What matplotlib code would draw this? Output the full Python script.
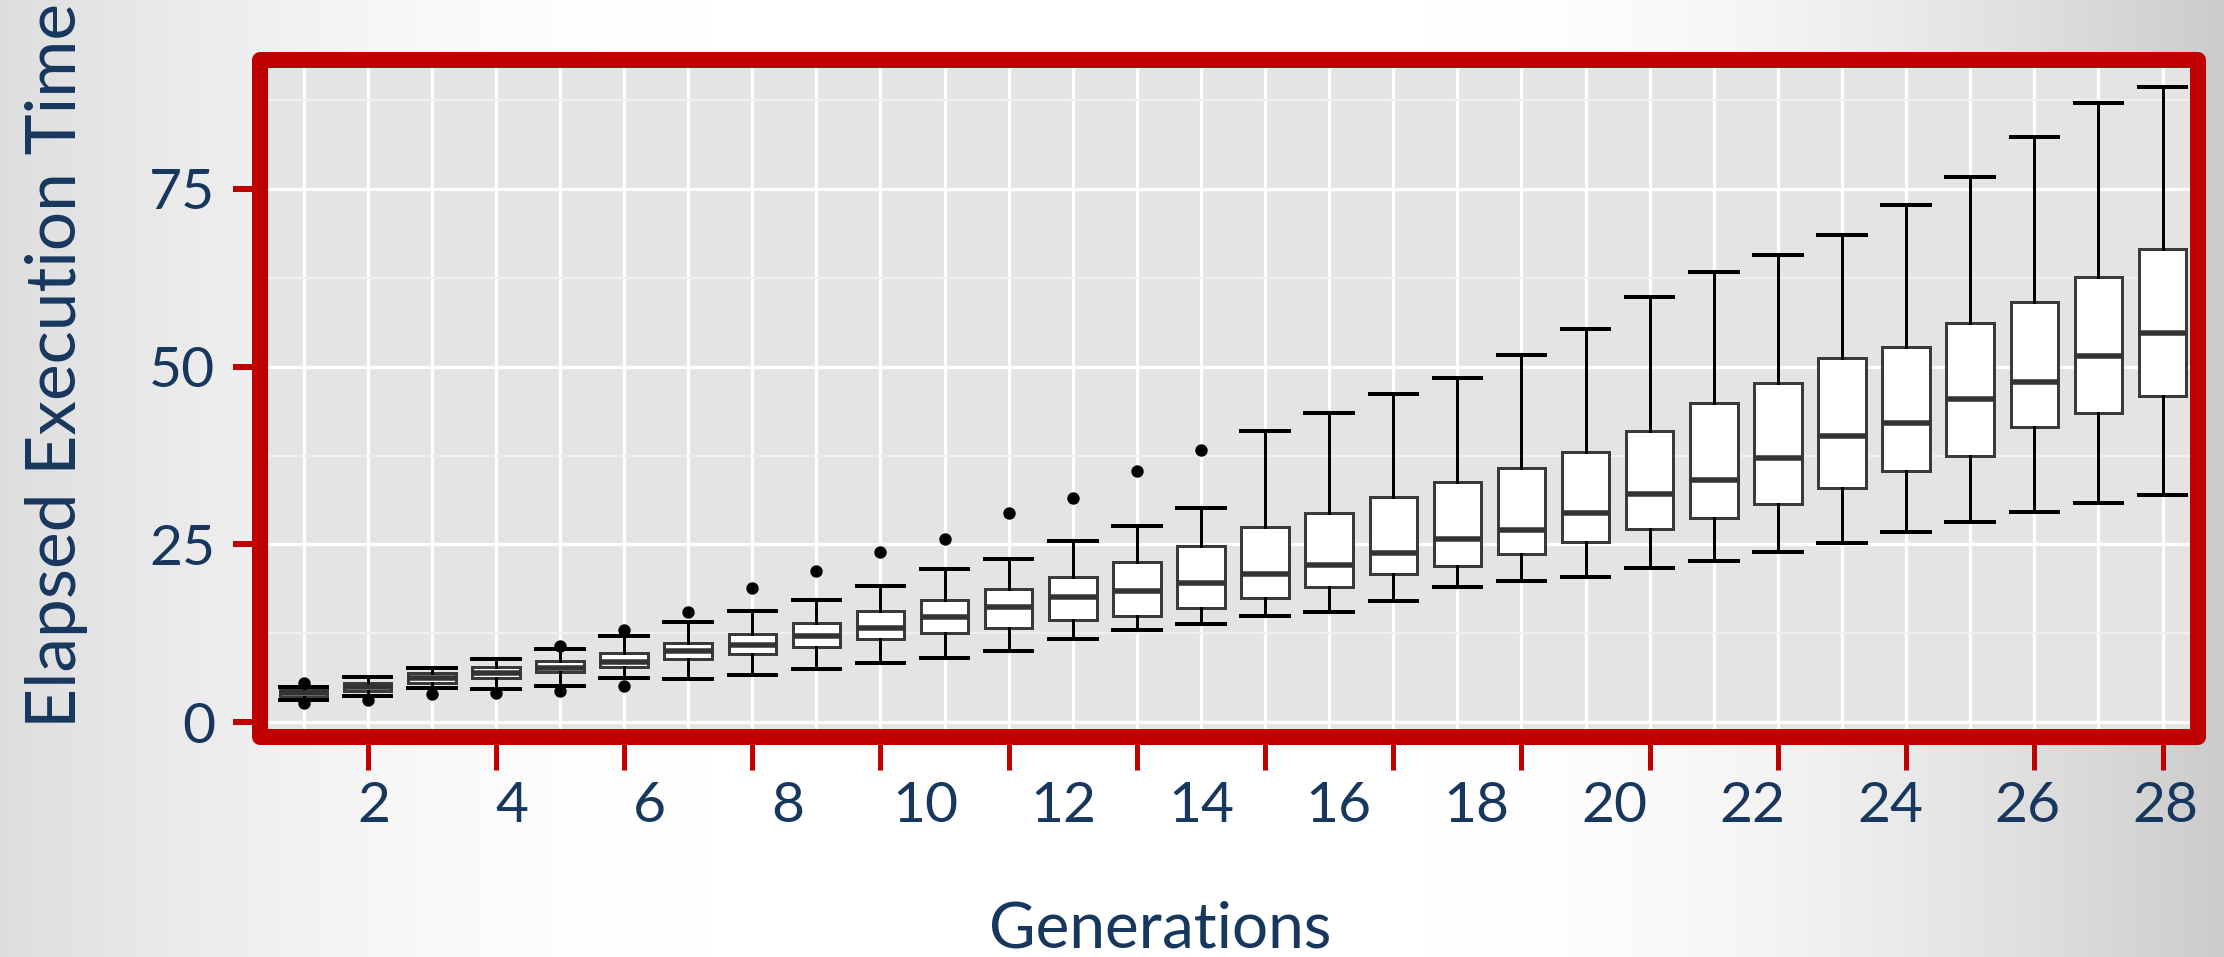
import numpy as np
import matplotlib
matplotlib.use("Agg")
import matplotlib.pyplot as plt
from matplotlib.patches import Rectangle
from matplotlib.transforms import IdentityTransform, blended_transform_factory

# ---------------- data ----------------
generations = list(range(1, 31))
whisker_low = [3.12, 3.73, 4.85, 4.62, 5.09, 6.26, 6.03, 6.70, 7.43, 8.37,
               8.98, 10.05, 11.66, 12.96, 13.76, 14.90, 15.45, 17.09, 19.05, 19.87,
               20.46, 21.73, 22.71, 23.88, 25.18, 26.69, 28.14, 29.57, 30.83, 31.89]
q1 = [3.59, 4.43, 5.56, 6.17, 7.01, 7.81, 8.93, 9.59, 10.62, 11.65,
      12.50, 13.20, 14.37, 14.98, 16.01, 17.40, 18.96, 20.84, 22.01, 23.60,
      25.29, 27.17, 28.66, 30.68, 32.96, 35.35, 37.42, 41.50, 43.50, 45.83]
median = [4.15, 4.99, 6.17, 6.87, 7.62, 8.51, 10.06, 10.90, 12.16, 13.29,
          14.75, 16.24, 17.56, 18.45, 19.62, 20.80, 22.10, 23.74, 25.76, 26.96,
          29.37, 32.04, 34.05, 37.10, 40.19, 42.07, 45.39, 47.84, 51.55, 54.68]
q3 = [4.62, 5.56, 6.87, 7.71, 8.65, 9.68, 11.09, 12.38, 13.99, 15.68,
      17.18, 18.69, 20.46, 22.48, 24.82, 27.49, 29.46, 31.71, 33.82, 35.80,
      37.95, 40.94, 44.84, 47.65, 51.17, 52.80, 56.19, 59.07, 62.59, 66.55]
whisker_high = [4.99, 6.31, 7.57, 8.89, 10.25, 12.17, 14.04, 15.68, 17.18, 19.15,
                21.54, 22.90, 25.52, 27.63, 30.07, 40.90, 43.52, 46.15, 48.44, 51.70,
                55.27, 59.83, 63.35, 65.69, 68.49, 72.70, 76.72, 82.24, 87.08, 89.33]
outliers = [[5.46, 2.74], [3.12], [3.92], [4.15], [10.76, 4.43], [12.96, 5.14],
            [15.54], [18.93], [21.30], [23.88], [25.76], [29.37], [31.48], [35.32],
            [38.27], [], [], [], [], [], [], [], [], [], [], [], [], [], [], []]

x_tick_marks = [2, 4, 6, 8, 10, 12, 14, 16, 18, 20, 22, 24, 26, 28, 30]
x_tick_labels = ["2", "4", "6", "8", "10", "12", "14", "16", "18", "20",
                 "22", "24", "26", "28"]
y_ticks = [0, 25, 50, 75]
y_minor = [12.5, 37.5, 62.5, 87.5]
x_label = "Generations"
y_label = "Elapsed Execution Time"

# ---------------- style ----------------
W, H = 2224, 957
DPI = 100
RED = "#C00000"
NAVY = "#17375E"
FONT = "Lato"
PT = 72.0 / DPI  # points per pixel

fig = plt.figure(figsize=(W / DPI, H / DPI), dpi=DPI)
fig.patch.set_facecolor("white")

# slide background gradient (light grey -> white -> grey)
xs = np.linspace(0, 1, W)
left_part = np.clip(xs / 0.32, 0, 1)
right_part = np.clip((1 - xs) / 0.36, 0, 1)
val = np.ones(W)
val = np.where(xs < 0.32, 0.87 + 0.13 * np.sin(left_part * np.pi / 2), val)
val = np.where(xs > 0.64, 0.80 + 0.20 * np.sin(right_part * np.pi / 2), val)
grid = np.repeat(val[None, :], H, axis=0)
bg = np.dstack([grid, grid, grid])
fig.figimage(bg, xo=0, yo=0, origin="upper", zorder=-10)

# axes placed on the centre line of the red frame
fl, fr, ft, fb = 260.0, 2197.5, 59.6, 736.5
ax = fig.add_axes([fl / W, 1 - fb / H, (fr - fl) / W, (fb - ft) / H])
ax.set_facecolor("#E4E4E4")
for s in ax.spines.values():
    s.set_visible(False)

stats = []
for i, g in enumerate(generations):
    stats.append(dict(med=median[i], q1=q1[i], q3=q3[i],
                      whislo=whisker_low[i], whishi=whisker_high[i],
                      fliers=outliers[i]))

ax.bxp(stats, positions=generations, widths=0.74, capwidths=0.74,
       patch_artist=True, showfliers=True,
       boxprops=dict(facecolor="white", edgecolor="#3a3a3a", linewidth=3 * PT),
       medianprops=dict(color="#333333", linewidth=5.5 * PT, solid_capstyle="butt"),
       whiskerprops=dict(color="black", linewidth=3 * PT),
       capprops=dict(color="black", linewidth=4 * PT),
       flierprops=dict(marker="o", markerfacecolor="black", markeredgecolor="black",
                       markersize=11 * PT))

ax.set_xlim(0.32, 30.546)
ax.set_ylim(-2.01, 93.17)

# grid
ax.set_axisbelow(True)
ax.set_yticks(y_ticks)
ax.set_yticks(y_minor, minor=True)
ax.set_xticks(x_tick_marks)
ax.set_xticks(generations, minor=True)
ax.grid(which="major", axis="y", color="white", linewidth=3.2 * PT)
ax.grid(which="minor", axis="y", color="#F0F0F0", linewidth=2 * PT)
ax.grid(which="minor", axis="x", color="white", linewidth=3.2 * PT)
ax.grid(which="major", axis="x", color="white", linewidth=3.2 * PT)

ax.tick_params(axis="y", which="major", length=27 * PT, width=6 * PT, color=RED,
               pad=18 * PT, labelsize=41, labelcolor=NAVY)
ax.tick_params(axis="x", which="major", length=33 * PT, width=5 * PT, color=RED,
               labelbottom=False)
ax.tick_params(which="minor", length=0)
ax.set_yticklabels([str(v) for v in y_ticks], fontfamily=FONT)
ax.set_xticklabels([])

# x labels (slide text, spread evenly under the red ticks)
trans = blended_transform_factory(ax.transData, fig.transFigure)
lab_pos = np.linspace(2.1, 30.05, len(x_tick_labels))
for p, t in zip(lab_pos, x_tick_labels):
    ax.text(p, 1 - 821.7 / H, t, transform=trans, ha="center", va="baseline",
            fontsize=41, color=NAVY, fontfamily=FONT, clip_on=False)

# red frame with rounded outer corners
frame = Rectangle((fl, H - fb), fr - fl, fb - ft, transform=IdentityTransform(),
                  fill=False, edgecolor=RED, linewidth=16 * PT, joinstyle="round",
                  zorder=10)
fig.add_artist(frame)

# axis titles
fig.text(57 / W, 1 - 366 / H, y_label, rotation=90, ha="center", va="center",
         fontsize=50, color=NAVY, fontfamily=FONT)
fig.text(1160 / W, 1 - 948 / H, x_label, ha="center", va="baseline",
         fontsize=46, color=NAVY, fontfamily=FONT)

fig.savefig("out.png", dpi=DPI)
